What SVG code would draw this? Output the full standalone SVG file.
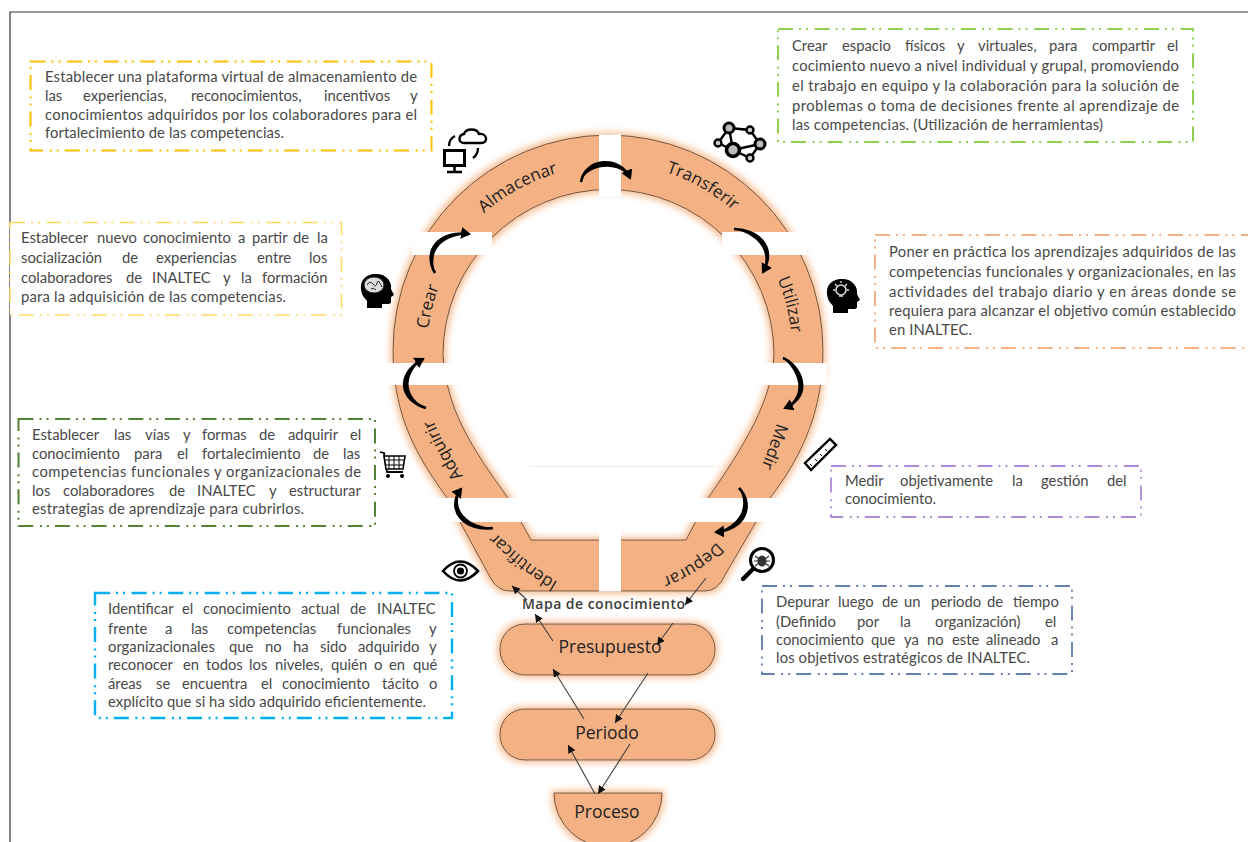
<svg xmlns="http://www.w3.org/2000/svg" width="1248" height="842" viewBox="0 0 1248 842">
<style>
.t{font-family:"Lato","Noto Sans",sans-serif;font-size:14.8px;fill:#484848}
.l{font-family:"Open Sans","Noto Sans",sans-serif;font-size:17px;fill:#222}
.box{fill:#fff;stroke-dasharray:15 6 2 5 2 6.6}
.shape{fill:#F4B183;stroke:#6b5443;stroke-width:1}
.bar{fill:#fff}
.cv{fill:none;stroke:#000;stroke-width:2.6;marker-end:url(#big)}
.cr{fill:#000}
.st{fill:none;stroke:#404040;stroke-width:1.1;marker-end:url(#small)}
.ic{fill:none;stroke:#000}
</style>
<defs>
<filter id="glow" x="-15%" y="-15%" width="130%" height="130%">
<feMorphology in="SourceAlpha" operator="dilate" radius="2" result="d"/>
<feGaussianBlur in="d" stdDeviation="3.6" result="b"/>
<feFlood flood-color="#F7B98C"/>
<feComposite in2="b" operator="in" result="c"/>
<feMerge><feMergeNode in="c"/><feMergeNode in="SourceGraphic"/></feMerge>
</filter>
<marker id="big" markerUnits="userSpaceOnUse" markerWidth="14" markerHeight="14" refX="8" refY="6" orient="auto"><path d="M0,0 L10,6 L0,12 Z" fill="#000"/></marker>
<marker id="small" markerUnits="userSpaceOnUse" markerWidth="10" markerHeight="10" refX="8" refY="4" orient="auto"><path d="M0,0 L8,4 L0,8 Z" fill="#111"/></marker>
<path id="head" d="M2,22 C-4,8 4,0 15,0 C26,0 31,8 30,15 L33,21 L30,23 L30,28 Q30,30 26,30 L21,30 L21,34 L6,34 L6,27 Z" fill="#000"/>
<path id="p-alm" d="M484,213.5 A185,185 0 0 1 576,169"/>
<path id="p-tra" d="M666,172.2 A188,188 0 0 1 752,230"/>
<path id="p-cre" d="M428.4,329 A181,181 0 0 1 460,247"/>
<path id="p-uti" d="M777.4,279 A184,184 0 0 1 791.3,367"/>
<path id="p-med" d="M777,423 Q770,446 760,470"/>
<path id="p-adq" d="M463,476 Q446,450 431,415"/>
<path id="p-ide" d="M558,582 Q530,566 495,532"/>
<path id="p-dep" d="M717,542 Q695,565 664,577"/>
</defs>

<path id="frame" d="M10,842 V12 H1248" fill="none" stroke="#333" stroke-width="1.2"/>

<g id="bulb">
<path class="shape" filter="url(#glow)" fill-rule="evenodd" d="M393,350 A215,215 0 0 1 823,350 C823,420 795,465 770,498 L725,575 Q718,591 705,591 H510 Q497,591 490,577 L447,498 C420,460 393,420 393,350 Z M443,355 C447,410 470,445 508,498 L531,540 H686 L708,498 C745,445 772,400 774,355 A165.5,165.5 0 0 0 443,355 Z"/>
<rect class="bar" x="599" y="134.500" width="22" height="61.500"/>
<rect class="bar" x="599" y="530" width="22" height="61.500"/>
<rect class="bar" x="412" y="232" width="80" height="23"/>
<rect class="bar" x="722" y="232" width="84" height="23"/>
<rect class="bar" x="378" y="363" width="80" height="22"/>
<rect class="bar" x="748" y="363" width="79" height="22"/>
<rect class="bar" x="430" y="498" width="358" height="24"/>
<path d="M530,466.5 H715" stroke="#e4f2dc" stroke-width="1" fill="none"/>
</g>

<g id="node-almacenar"><text class="l"><textPath href="#p-alm">Almacenar</textPath></text></g>
<g id="node-transferir"><text class="l"><textPath href="#p-tra">Transferir</textPath></text></g>
<g id="node-utilizar"><text class="l"><textPath href="#p-uti">Utilizar</textPath></text></g>
<g id="node-medir"><text class="l"><textPath href="#p-med">Medir</textPath></text></g>
<g id="node-depurar"><text class="l"><textPath href="#p-dep">Depurar</textPath></text></g>
<g id="node-identificar"><text class="l"><textPath href="#p-ide">Identificar</textPath></text></g>
<g id="node-adquirir"><text class="l"><textPath href="#p-adq">Adquirir</textPath></text></g>
<g id="node-crear"><text class="l"><textPath href="#p-cre">Crear</textPath></text></g>

<g id="node-mapa"><text x="603.5" y="609" text-anchor="middle" font-family="Open Sans, sans-serif" font-size="14" font-weight="600" fill="#3c3c3c" textLength="163">Mapa de conocimiento</text></g>
<g id="node-presupuesto"><rect class="shape" filter="url(#glow)" x="500" y="624" width="215" height="51" rx="25" ry="25"/><text class="l" x="610" y="653" text-anchor="middle" style="font-size:17.5px">Presupuesto</text></g>
<g id="node-periodo"><rect class="shape" filter="url(#glow)" x="500" y="709" width="215" height="51" rx="25" ry="25"/><text class="l" x="607" y="739" text-anchor="middle" style="font-size:17.5px">Periodo</text></g>
<g id="node-proceso"><path class="shape" filter="url(#glow)" d="M554,793 H662 A54,54 0 0 1 554,793 Z"/><text class="l" x="607" y="818" text-anchor="middle" style="font-size:17.5px">Proceso</text></g>

<g id="connectors">
<path class="cr" d="M581,182 C585,158 620,155 630,178 C619,161 587,164 581,182 Z"/><path class="cv" d="M581,182 C585,158 620,155 630,178"/>
<path class="cr" d="M734,229 C755,229 778,245 763,272 C772,247 754,234 734,229 Z"/><path class="cv" d="M734,229 C755,229 778,245 763,272"/>
<path class="cr" d="M783,358 C800,365 815,395 785,408 C809,393 796,369 783,358 Z"/><path class="cv" d="M783,358 C800,365 815,395 785,408"/>
<path class="cr" d="M739,488 C755,505 745,530 716,532 C741,525 749,506 739,488 Z"/><path class="cv" d="M739,488 C755,505 745,530 716,532"/>
<path class="cr" d="M493,528 C465,532 445,510 461,489 C451,510 467,526 493,528 Z"/><path class="cv" d="M493,528 C465,532 445,510 461,489"/>
<path class="cr" d="M426,408 C400,400 395,375 423,359 C401,377 406,398 426,408 Z"/><path class="cv" d="M426,408 C400,400 395,375 423,359"/>
<path class="cr" d="M435,273 C422,250 440,230 469,234 C443,236 428,249 435,273 Z"/><path class="cv" d="M435,273 C422,250 440,230 469,234"/>
<path class="st" d="M706,578 L685,605"/>
<path class="st" d="M527,600 L512,586"/>
<path class="st" d="M553,641 L535,614"/>
<path class="st" d="M673,623 L657,645"/>
<path class="st" d="M584,719 L553,669"/>
<path class="st" d="M648,673 L615,723"/>
<path class="st" d="M595,794 L568,745"/>
<path class="st" d="M630,744 L598,794"/>
</g>

<g id="icon-almacenar">
<rect class="ic" style="stroke-width:3" x="444.500" y="150.500" width="20" height="15"/>
<path d="M454.500,166 V171 M447,172 H462" class="ic" style="stroke-width:2.6"/>
<path d="M464,143 C458,143 458,135 464,134 C466,128 477,128 479,134 C487,133 489,143 481,143 Z" class="ic" style="stroke-width:2.4"/>
<path d="M449,146 C449,141 451,138 455,136 M478,148 C478,153 476,156 473,158" class="ic" style="stroke-width:2.4"/>
</g>
<g id="icon-transferir">
<path d="M729,128 L750,130 L760,144 L750,158 L733,150 L718,143 Z M729,128 L733,150 M733,150 L760,144" class="ic" style="stroke-width:2.4"/>
<circle cx="729" cy="128" r="5" fill="#bbb" stroke="#000" stroke-width="3"/>
<circle cx="750" cy="130" r="3.500" fill="#ccc" stroke="#000" stroke-width="2.400"/>
<circle cx="760" cy="144" r="5" fill="#bbb" stroke="#000" stroke-width="3"/>
<circle cx="750" cy="158" r="3.500" fill="#ccc" stroke="#000" stroke-width="2.400"/>
<circle cx="733" cy="150" r="6.500" fill="#bbb" stroke="#000" stroke-width="3.600"/>
<circle cx="718" cy="143" r="3.500" fill="#ccc" stroke="#000" stroke-width="2.400"/>
</g>
<g id="icon-crear">
<use href="#head" x="361" y="274"/>
<ellipse cx="374" cy="285" rx="10" ry="8" fill="#ddd" stroke="#222" stroke-width="1"/>
<path d="M367,285 Q370,280 373,284 T377,283 T382,287 M371,289 Q374,287 376,290" fill="none" stroke="#222" stroke-width="1"/>
</g>
<g id="icon-utilizar">
<use href="#head" x="827" y="279"/>
<circle cx="841" cy="290" r="5" fill="none" stroke="#ddd" stroke-width="1.600"/>
<path d="M841,281 V283 M833,290 H835 M847,290 H849 M835,284 L837,286 M847,284 L845,286 M839,296 H843" stroke="#ddd" stroke-width="1.300" fill="none"/>
</g>
<g id="icon-medir">
<path d="M805,463 L830,439 L836,445 L811,470 Z" fill="#fff" stroke="#000" stroke-width="2.400"/>
<path d="M810,464 L812,466 M815,459 L817,461 M820,454 L822,456 M825,449 L827,451" stroke="#000" stroke-width="1" fill="none"/>
</g>
<g id="icon-depurar">
<circle cx="762" cy="560" r="11.500" fill="#fff" stroke="#000" stroke-width="3"/>
<ellipse cx="762" cy="561" rx="4.500" ry="5.500" fill="#333"/>
<path d="M755,556 L769,566 M769,556 L755,566 M754,561 H770" stroke="#333" stroke-width="1.200" fill="none"/>
<path d="M753,569 L743,579" stroke="#000" stroke-width="4.400" stroke-linecap="round" fill="none"/>
</g>
<g id="icon-identificar">
<path d="M443,571 Q460,552 478,571 Q460,590 443,571 Z" fill="#fff" stroke="#000" stroke-width="2.600"/>
<circle cx="460.500" cy="571" r="6.500" fill="#fff" stroke="#000" stroke-width="1.800"/>
<circle cx="460.500" cy="571" r="3.600" fill="#000"/>
</g>
<g id="icon-adquirir">
<path d="M380,452 L384,453 L387,472 H403" class="ic" style="stroke-width:1.800"/>
<path d="M384,456 H405 L403,469 H386 Z" fill="#fff" stroke="#000" stroke-width="1.600"/>
<path d="M389,456 V469 M394,456 V469 M399,456 V469 M385,460 H404 M385,465 H404" stroke="#000" stroke-width="1" fill="none"/>
<circle cx="388" cy="476" r="2" fill="#000"/><circle cx="402" cy="476" r="2" fill="#000"/>
</g>

<g id="box-almacenar">
<rect class="box" stroke="#FFC000" stroke-width="2" x="30.500" y="61.500" width="401" height="89"/>
<text class="t" x="45" y="82" textLength="372">Establecer una plataforma virtual de almacenamiento de</text>
<text class="t" y="101"><tspan x="45">las</tspan> <tspan x="83">experiencias,</tspan> <tspan x="191">reconocimientos,</tspan> <tspan x="324">incentivos</tspan> <tspan x="410">y</tspan></text>
<text class="t" x="45" y="120" textLength="372">conocimientos adquiridos por los colaboradores para el</text>
<text class="t" x="45" y="138" textLength="239">fortalecimiento de las competencias.</text>
</g>
<g id="box-crear">
<rect class="box" stroke="#FFD966" stroke-width="1.500" x="10" y="222.500" width="331.500" height="92.500"/>
<text class="t" y="243"><tspan x="21">Establecer</tspan> <tspan x="97">nuevo</tspan> <tspan x="143">conocimiento</tspan> <tspan x="238">a</tspan> <tspan x="252">partir</tspan> <tspan x="293">de</tspan> <tspan x="317">la</tspan></text>
<text class="t" y="263"><tspan x="21">socialización</tspan> <tspan x="122">de</tspan> <tspan x="156">experiencias</tspan> <tspan x="257">entre</tspan> <tspan x="309">los</tspan></text>
<text class="t" y="283"><tspan x="21">colaboradores</tspan> <tspan x="126">de</tspan> <tspan x="152">INALTEC</tspan> <tspan x="223">y</tspan> <tspan x="241">la</tspan> <tspan x="262">formación</tspan></text>
<text class="t" x="21" y="302" textLength="265">para la adquisición de las competencias.</text>
</g>
<g id="box-transferir">
<rect class="box" stroke="#8FD14F" stroke-width="2" x="778" y="29" width="415" height="113"/>
<text class="t" y="51"><tspan x="792">Crear</tspan> <tspan x="842">espacio</tspan> <tspan x="905">físicos</tspan> <tspan x="957">y</tspan> <tspan x="978">virtuales,</tspan> <tspan x="1049">para</tspan> <tspan x="1092">compartir</tspan> <tspan x="1167">el</tspan></text>
<text class="t" x="792" y="71" textLength="387">cocimiento nuevo a nivel individual y grupal, promoviendo</text>
<text class="t" x="792" y="91" textLength="387">el trabajo en equipo y la colaboración para la solución de</text>
<text class="t" x="792" y="111" textLength="387">problemas o toma de decisiones frente al aprendizaje de</text>
<text class="t" x="792" y="130" textLength="311">las competencias. (Utilización de herramientas)</text>
</g>
<g id="box-utilizar">
<rect class="box" stroke="#F4B183" stroke-width="2" x="875" y="235" width="380" height="113"/>
<text class="t" x="889" y="257" textLength="347">Poner en práctica los aprendizajes adquiridos de las</text>
<text class="t" x="889" y="277" textLength="347">competencias funcionales y organizacionales, en las</text>
<text class="t" x="889" y="297" textLength="347">actividades del trabajo diario y en áreas donde se</text>
<text class="t" x="889" y="316" textLength="347">requiera para alcanzar el objetivo común establecido</text>
<text class="t" x="889" y="335" textLength="83">en INALTEC.</text>
</g>
<g id="box-adquirir">
<rect class="box" stroke="#548235" stroke-width="2" x="18.500" y="419" width="356.500" height="107"/>
<text class="t" y="440"><tspan x="32">Establecer</tspan> <tspan x="114">las</tspan> <tspan x="145">vías</tspan> <tspan x="183">y</tspan> <tspan x="202">formas</tspan> <tspan x="259">de</tspan> <tspan x="288">adquirir</tspan> <tspan x="350">el</tspan></text>
<text class="t" y="459"><tspan x="32">conocimiento</tspan> <tspan x="134">para</tspan> <tspan x="177">el</tspan> <tspan x="202">fortalecimiento</tspan> <tspan x="313">de</tspan> <tspan x="343">las</tspan></text>
<text class="t" x="32" y="477" textLength="329">competencias funcionales y organizacionales de</text>
<text class="t" y="496"><tspan x="32">los</tspan> <tspan x="63">colaboradores</tspan> <tspan x="169">de</tspan> <tspan x="197">INALTEC</tspan> <tspan x="269">y</tspan> <tspan x="289">estructurar</tspan></text>
<text class="t" x="32" y="514" textLength="272">estrategias de aprendizaje para cubrirlos.</text>
</g>
<g id="box-identificar">
<rect class="box" stroke="#00B0F0" stroke-width="2.400" x="95" y="593" width="357" height="125"/>
<text class="t" y="614"><tspan x="108">Identificar</tspan> <tspan x="182">el</tspan> <tspan x="203">conocimiento</tspan> <tspan x="301">actual</tspan> <tspan x="350">de</tspan> <tspan x="377">INALTEC</tspan></text>
<text class="t" y="634"><tspan x="108">frente</tspan> <tspan x="165">a</tspan> <tspan x="191">las</tspan> <tspan x="227">competencias</tspan> <tspan x="337">funcionales</tspan> <tspan x="429">y</tspan></text>
<text class="t" y="652"><tspan x="108">organizacionales</tspan> <tspan x="229">que</tspan> <tspan x="265">no</tspan> <tspan x="293">ha</tspan> <tspan x="320">sido</tspan> <tspan x="358">adquirido</tspan> <tspan x="429">y</tspan></text>
<text class="t" y="670"><tspan x="108">reconocer</tspan> <tspan x="183">en</tspan> <tspan x="206">todos</tspan> <tspan x="249">los</tspan> <tspan x="275">niveles,</tspan> <tspan x="331">quién</tspan> <tspan x="374">o</tspan> <tspan x="389">en</tspan> <tspan x="413">qué</tspan></text>
<text class="t" y="689"><tspan x="108">áreas</tspan> <tspan x="156">se</tspan> <tspan x="182">encuentra</tspan> <tspan x="261">el</tspan> <tspan x="282">conocimiento</tspan> <tspan x="382">tácito</tspan> <tspan x="429">o</tspan></text>
<text class="t" x="108" y="707" textLength="318">explícito que si ha sido adquirido eficientemente.</text>
</g>
<g id="box-medir">
<rect class="box" stroke="#9966CC" stroke-width="1.400" x="831" y="466" width="310" height="51"/>
<text class="t" y="486"><tspan x="845">Medir</tspan> <tspan x="900">objetivamente</tspan> <tspan x="1012">la</tspan> <tspan x="1041">gestión</tspan> <tspan x="1107">del</tspan></text>
<text class="t" x="845" y="504" textLength="91">conocimiento.</text>
</g>
<g id="box-depurar">
<rect class="box" stroke="#2F5597" stroke-width="1.400" x="762" y="586" width="310" height="88"/>
<text class="t" y="607"><tspan x="776">Depurar</tspan> <tspan x="838">luego</tspan> <tspan x="882">de</tspan> <tspan x="904">un</tspan> <tspan x="931">periodo</tspan> <tspan x="987">de</tspan> <tspan x="1013">tiempo</tspan></text>
<text class="t" y="627"><tspan x="776">(Definido</tspan> <tspan x="857">por</tspan> <tspan x="900">la</tspan> <tspan x="935">organización)</tspan> <tspan x="1045">el</tspan></text>
<text class="t" y="645"><tspan x="776">conocimiento</tspan> <tspan x="871">que</tspan> <tspan x="904">ya</tspan> <tspan x="927">no</tspan> <tspan x="952">este</tspan> <tspan x="986">alineado</tspan> <tspan x="1051">a</tspan></text>
<text class="t" x="776" y="663" textLength="254">los objetivos estratégicos de INALTEC.</text>
</g>
</svg>
